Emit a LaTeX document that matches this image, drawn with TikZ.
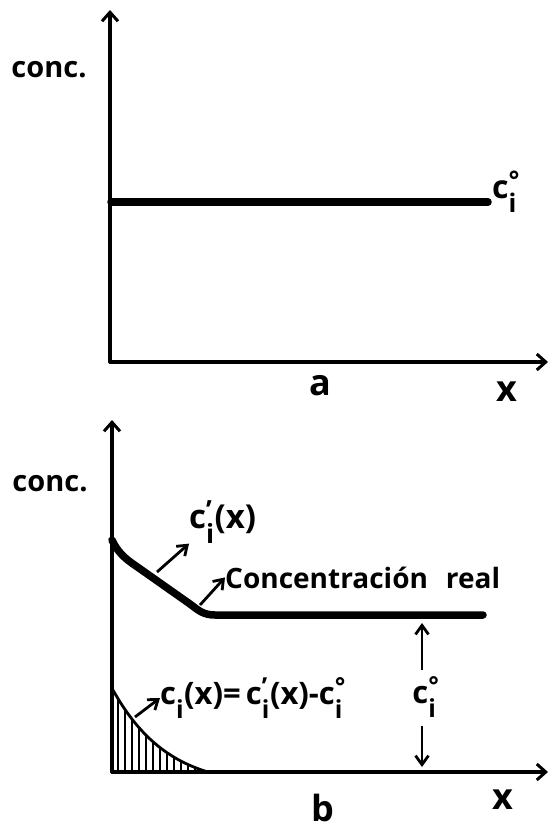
\documentclass[tikz,border=0pt]{standalone}
\usepackage{amsmath}
\usepackage{fontspec}
\setmainfont{Open Sans}
\renewcommand\defaultscriptratio{.8}
\usetikzlibrary{arrows.meta}
\newcommand\cidx[1]{c\ensuremath{_{\text{i}}^{\text{#1}}}}
\begin{document}
\begin{tikzpicture}[x=1pt,y=-1pt,
  axisline/.style={line width=3.2pt,line cap=round,-{Straight Barb[length=9pt,width=16pt,line width=3pt]}},
  curve/.style={line width=7.5pt,line cap=round},
  pointer/.style={line width=2.8pt,-{Straight Barb[length=9pt,width=13pt,line width=2.8pt]}},
  lbl/.style={inner sep=0pt,font=\fontsize{28}{30}\selectfont\bfseries},
  biglbl/.style={inner sep=0pt,font=\fontsize{36}{38}\selectfont\bfseries},
  hatch/.style={line width=2.6pt}]
\useasboundingbox (0,0) rectangle (549,832);
% ---------- panel a ----------
\coordinate (Ao) at (110,362);
\coordinate (Ay) at (110,10);
\coordinate (Ax) at (548,362);
\draw[axisline] (Ao) -- (Ay);
\draw[axisline] (Ao) -- (Ax);
\coordinate (As) at (111,202);
\coordinate (Ae) at (488,202);
\draw[curve] (As) -- (Ae);
\node[lbl,font=\fontsize{29}{31}\selectfont\bfseries] (concA) at (49,70) {conc.};
\node[lbl,font=\fontsize{32}{34}\selectfont\bfseries,anchor=west] (ciA) at (492,192) {\cidx{°}};
\node[biglbl] (la) at (320,386) {a};
\node[biglbl] (xA) at (507,392) {x};
% ---------- panel b ----------
\coordinate (Bo) at (112,772);
\coordinate (By) at (112,420);
\coordinate (Bx) at (548,772);
% hatched area
\begin{scope}
\clip (113,690) .. controls (138,735) and (168,760) .. (208,772) -- (113,772) -- cycle;
\foreach \hx in {118,125,...,207} \draw[hatch] (\hx,685) -- (\hx,775);
\end{scope}
\draw[line width=2.8pt] (113,690) .. controls (138,735) and (168,760) .. (208,772);
\draw[axisline] (Bo) -- (By);
\draw[axisline] (Bo) -- (Bx);
\coordinate (Bs) at (112,540);
\coordinate (Bk) at (215,615);
\coordinate (Be) at (483,615);
\draw[curve] (Bs) .. controls (117,551) and (124,558) .. (136,566) -- (190,604)
   .. controls (198,610) and (203,615) .. (Bk) -- (Be);
\node[lbl,font=\fontsize{29}{31}\selectfont\bfseries] (concB) at (50,484) {conc.};
\node[lbl,font=\fontsize{33}{35}\selectfont\bfseries,anchor=west] (cpx) at (189,522) {\cidx{'}(x)};
\node[lbl,anchor=base west] (real) at (225,588) {Concentración\hspace{18pt}real};
\node[lbl,font=\fontsize{31}{33}\selectfont\bfseries,anchor=west] (eqn) at (160,698) {\cidx{}(x)=\,\cidx{'}(x)-\cidx{°}};
\node[lbl,font=\fontsize{31}{33}\selectfont\bfseries] (ciB) at (426,697) {\cidx{°}};
\node[biglbl] (lb) at (323,808) {b};
\node[biglbl] (xB) at (503,800) {x};
% pointer arrows
\coordinate (p1) at (157,572);
\coordinate (p2) at (200,605);
\coordinate (p3) at (135,717);
\draw[pointer] (p1) -- (cpx.south west);
\draw[pointer] (p2) -- (real.west);
\draw[pointer] (p3) -- (eqn.west);
\coordinate (u1) at (422,623);
\coordinate (d1) at (422,767);
\draw[pointer] (ciB.north -| u1) ++(0,-6) -- (u1);
\draw[pointer] (ciB.south -| d1) ++(0,8) -- (d1);
\end{tikzpicture}
\end{document}
